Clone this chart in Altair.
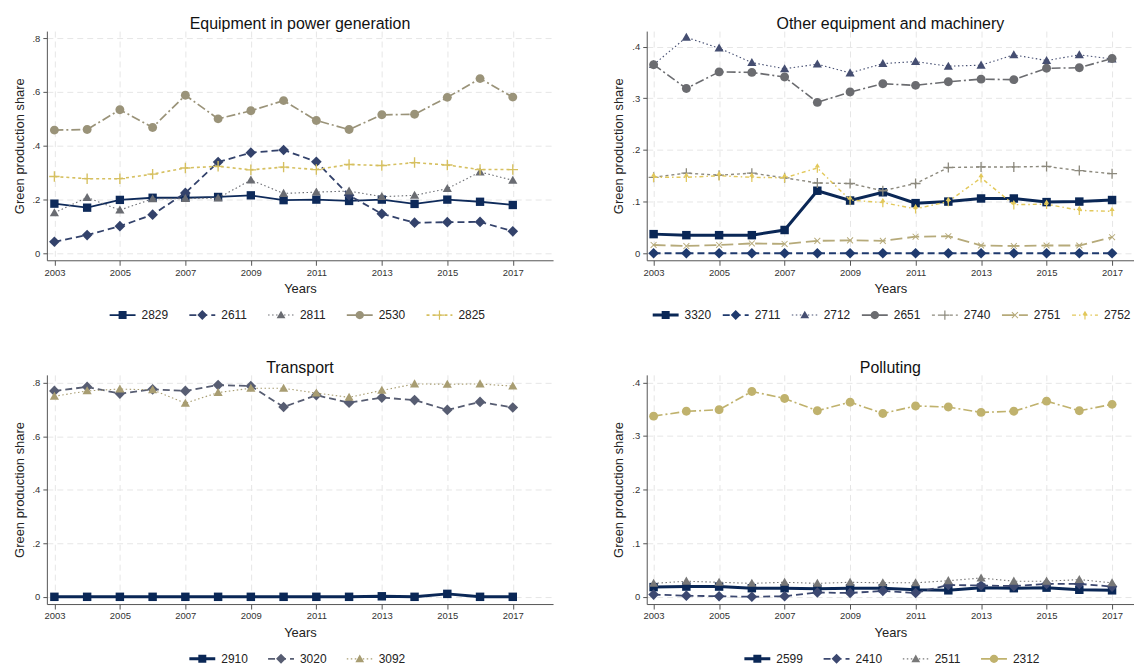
import altair as alt
import pandas as pd

YEARS = list(range(2003, 2018))
TICK_YEARS = [2003, 2005, 2007, 2009, 2011, 2013, 2015, 2017]

# Equipment in power generation
POWER_CODES = ["2829", "2611", "2811", "2530", "2825"]
POWER_2829 = [0.184, 0.169, 0.198, 0.206, 0.206, 0.209, 0.215, 0.197, 0.199, 0.194, 0.199, 0.183, 0.199, 0.191, 0.179]
POWER_2611 = [0.042, 0.067, 0.100, 0.143, 0.224, 0.339, 0.374, 0.384, 0.340, 0.215, 0.146, 0.113, 0.115, 0.116, 0.081]
POWER_2811 = [0.150, 0.207, 0.160, 0.202, 0.203, 0.205, 0.272, 0.222, 0.227, 0.231, 0.210, 0.215, 0.240, 0.302, 0.271]
POWER_2530 = [0.458, 0.460, 0.534, 0.468, 0.588, 0.500, 0.530, 0.568, 0.494, 0.460, 0.515, 0.517, 0.580, 0.650, 0.581]
POWER_2825 = [0.285, 0.277, 0.277, 0.294, 0.317, 0.323, 0.310, 0.320, 0.311, 0.330, 0.326, 0.337, 0.328, 0.311, 0.311]

# Other equipment and machinery
MACH_CODES = ["3320", "2711", "2712", "2651", "2740", "2751", "2752"]
MACH_3320 = [0.037, 0.035, 0.035, 0.035, 0.045, 0.121, 0.102, 0.118, 0.097, 0.100, 0.106, 0.106, 0.099, 0.100, 0.103]
MACH_2711 = [0.0] * 15
MACH_2712 = [0.365, 0.418, 0.397, 0.369, 0.357, 0.366, 0.349, 0.367, 0.371, 0.362, 0.364, 0.384, 0.373, 0.384, 0.376]
MACH_2651 = [0.365, 0.319, 0.351, 0.350, 0.341, 0.292, 0.312, 0.328, 0.325, 0.332, 0.337, 0.336, 0.358, 0.359, 0.377]
MACH_2740 = [0.147, 0.155, 0.151, 0.155, 0.146, 0.136, 0.135, 0.121, 0.135, 0.166, 0.167, 0.167, 0.168, 0.160, 0.154]
MACH_2751 = [0.016, 0.014, 0.016, 0.019, 0.018, 0.024, 0.025, 0.024, 0.032, 0.033, 0.015, 0.014, 0.015, 0.015, 0.031]
MACH_2752 = [0.147, 0.147, 0.150, 0.147, 0.146, 0.165, 0.103, 0.098, 0.086, 0.100, 0.146, 0.094, 0.095, 0.083, 0.081]

# Transport
TRANS_CODES = ["2910", "3020", "3092"]
TRANS_2910 = [0.0, 0.0, 0.0, 0.0, 0.0, 0.0, 0.0, 0.0, 0.0, 0.0, 0.002, 0.0, 0.011, 0.0, 0.0]
TRANS_3020 = [0.769, 0.784, 0.759, 0.775, 0.769, 0.791, 0.787, 0.709, 0.753, 0.725, 0.744, 0.735, 0.698, 0.728, 0.707]
TRANS_3092 = [0.749, 0.769, 0.776, 0.773, 0.723, 0.763, 0.779, 0.779, 0.761, 0.745, 0.771, 0.795, 0.794, 0.795, 0.787]

# Polluting
POLL_CODES = ["2599", "2410", "2511", "2312"]
POLL_2599 = [0.018, 0.019, 0.019, 0.016, 0.016, 0.015, 0.016, 0.016, 0.013, 0.012, 0.017, 0.016, 0.017, 0.013, 0.012]
POLL_2410 = [0.004, 0.002, 0.001, 0.0, 0.001, 0.008, 0.007, 0.011, 0.007, 0.022, 0.021, 0.020, 0.024, 0.024, 0.019]
POLL_2511 = [0.025, 0.029, 0.027, 0.025, 0.027, 0.025, 0.027, 0.026, 0.026, 0.030, 0.035, 0.029, 0.029, 0.032, 0.026]
POLL_2312 = [0.337, 0.346, 0.349, 0.383, 0.370, 0.347, 0.363, 0.342, 0.356, 0.354, 0.344, 0.346, 0.365, 0.347, 0.359]

FONT = "Liberation Sans"
LEG_R = 13.0

DASH = {
    "solid": [],
    "dash": [7, 4],
    "dot": [1.5, 2.5],
    "dashdot": [9, 3, 2, 3],
    "short": [3, 3],
    "long": [12, 5],
    "dashdot2": [4, 3, 1.5, 3],
}


def poly(pts):
    area = sum(x0 * y1 - x1 * y0 for (x0, y0), (x1, y1) in zip(pts, pts[1:] + pts[:1]))
    if area < 0:
        pts = pts[::-1]
    return "M" + "L".join(f"{x:.3f},{y:.3f}" for x, y in pts) + "Z"


def rect(x0, y0, x1, y1):
    return poly([(x0, y0), (x1, y0), (x1, y1), (x0, y1)])


def marker(kind, s):
    if kind == "square":
        return rect(-s, -s, s, s)
    if kind == "diamond":
        return poly([(0, -s), (s, 0), (0, s), (-s, 0)])
    if kind == "triangle":
        return poly([(0, -s), (s, 0.75 * s), (-s, 0.75 * s)])
    if kind == "circle":
        return f"M{-s:.3f},0A{s:.3f},{s:.3f} 0 1,1 {s:.3f},0A{s:.3f},{s:.3f} 0 1,1 {-s:.3f},0Z"
    w = 0.13 * s
    if kind == "plus":
        return rect(-s, -w, s, w) + rect(-w, -s, w, s)
    if kind == "x":
        a, d = 0.8 * s, w * 0.707
        return (poly([(-a + d, -a - d), (a + d, a - d), (a - d, a + d), (-a - d, -a + d)])
                + poly([(-a + d, a + d), (a + d, -a + d), (a - d, -a - d), (-a - d, a - d)]))
    # small triangle with a stem
    return poly([(0, -s), (0.55 * s, -0.1 * s), (-0.55 * s, -0.1 * s)]) + rect(-w, -0.1 * s, w, s)


def legend_path(dash, width, kind, half):
    hw = width / 2 / LEG_R
    parts = []
    pattern = DASH[dash]
    if not pattern:
        parts.append(rect(-1, -hw, 1, hw))
    else:
        pos, i = -1.0, 0
        while pos < 1:
            seg = pattern[i % len(pattern)] / LEG_R
            if i % 2 == 0:
                parts.append(rect(pos, -hw, min(pos + seg, 1), hw))
            pos += seg
            i += 1
    parts.append(marker(kind, half / LEG_R))
    return "".join(parts)


# colour, dash, line width, marker, marker size, legend marker half-size
POWER_STYLE = [
    ("#0e2a5a", "solid", 1.8, "square", 70, 4.0),
    ("#33426b", "dash", 1.8, "diamond", 115, 5.0),
    ("#6a6c72", "dot", 1.1, "triangle", 85, 4.4),
    ("#9a9379", "dashdot", 1.7, "circle", 80, 4.2),
    ("#d6c060", "short", 1.6, "plus", 110, 4.6),
]
MACH_STYLE = [
    ("#0a2756", "solid", 3.0, "square", 72, 4.0),
    ("#1f3a6e", "dash", 1.8, "diamond", 115, 5.0),
    ("#454e71", "dot", 1.1, "triangle", 85, 4.4),
    ("#6b6c70", "dashdot", 1.6, "circle", 80, 4.2),
    ("#8c897d", "short", 1.4, "plus", 100, 4.6),
    ("#b6aa7a", "long", 1.8, "x", 55, 3.8),
    ("#e2c85a", "dashdot2", 1.4, "arrow", 90, 4.4),
]
TRANS_STYLE = [
    ("#0a2756", "solid", 3.0, "square", 72, 4.0),
    ("#575d72", "dash", 1.8, "diamond", 115, 5.0),
    ("#a89d72", "dot", 1.1, "triangle", 85, 4.4),
]
POLL_STYLE = [
    ("#0a2756", "solid", 3.0, "square", 72, 4.0),
    ("#3c4870", "dash", 1.8, "diamond", 115, 5.0),
    ("#787878", "dot", 1.1, "triangle", 85, 4.4),
    ("#c0b26d", "dashdot", 1.6, "circle", 80, 4.2),
]

Y_LABELS = "datum.value == 0 ? '0' : substring(format(datum.value, '.1f'), 1)"


def panel(title, codes, series, styles, y_dom, y_ticks, x_dom, width, leg_x, leg_pad):
    df = pd.DataFrame({
        "year": YEARS * len(codes),
        "code": [c for c in codes for _ in YEARS],
        "share": [v for s in series for v in s],
    })
    x = alt.X("year:Q", scale=alt.Scale(domain=x_dom, nice=False, zero=False),
              axis=alt.Axis(values=TICK_YEARS, format="d", title="Years"))
    y = alt.Y("share:Q", scale=alt.Scale(domain=y_dom, nice=False, zero=False),
              axis=alt.Axis(values=y_ticks, labelExpr=Y_LABELS, title="Green production share"))
    layers = []
    for code, (color, dash, lw, kind, size, _) in zip(codes, styles):
        base = alt.Chart(df).transform_filter(alt.datum.code == code)
        line_kw = {"color": color, "strokeWidth": lw}
        if DASH[dash]:
            line_kw["strokeDash"] = DASH[dash]
        layers.append(base.mark_line(**line_kw).encode(x=x, y=y))
        layers.append(base.mark_point(shape=marker(kind, 1.0), size=size, filled=True,
                                      opacity=1, color=color, strokeWidth=0).encode(x=x, y=y))
    leg = alt.Legend(orient="none", legendX=leg_x, legendY=272, direction="horizontal",
                     columns=len(codes), title=None, symbolSize=LEG_R * LEG_R * 4,
                     symbolStrokeWidth=0, labelFontSize=12, labelFont=FONT, labelColor="#222",
                     labelOffset=6, columnPadding=leg_pad, padding=0)
    legend_layer = alt.Chart(df).transform_filter("false").mark_point(
        filled=True, opacity=1, size=LEG_R * LEG_R * 4
    ).encode(
        color=alt.Color("code:N", scale=alt.Scale(domain=codes, range=[s[0] for s in styles]), legend=leg),
        shape=alt.Shape("code:N", scale=alt.Scale(
            domain=codes, range=[legend_path(s[1], s[2], s[3], s[5]) for s in styles]), legend=leg),
    )
    return alt.layer(*layers, legend_layer).properties(
        width=width, height=230,
        title=alt.TitleParams(title, fontSize=16, font=FONT, fontWeight="normal", color="#111",
                              anchor="middle", baseline="alphabetic", offset=-14),
    )


p1 = panel("Equipment in power generation", POWER_CODES,
           [POWER_2829, POWER_2611, POWER_2811, POWER_2530, POWER_2825], POWER_STYLE,
           [-0.027, 0.827], [0, 0.2, 0.4, 0.6, 0.8], [2002.77, 2018.23], 508, 63, 21)
p2 = panel("Other equipment and machinery", MACH_CODES,
           [MACH_3320, MACH_2711, MACH_2712, MACH_2651, MACH_2740, MACH_2751, MACH_2752], MACH_STYLE,
           [-0.0136, 0.430], [0, 0.1, 0.2, 0.3, 0.4], [2002.79, 2017.67], 489, 6, 11.3)
p3 = panel("Transport", TRANS_CODES, [TRANS_2910, TRANS_3020, TRANS_3092], TRANS_STYLE,
           [-0.027, 0.829], [0, 0.2, 0.4, 0.6, 0.8], [2002.77, 2018.23], 508, 143, 20)
p4 = panel("Polluting", POLL_CODES, [POLL_2599, POLL_2410, POLL_2511, POLL_2312], POLL_STYLE,
           [-0.0136, 0.414], [0, 0.1, 0.2, 0.3, 0.4], [2002.79, 2017.67], 489, 98, 20.5)

chart = (
    alt.concat(p1, p2, p3, p4, columns=2, spacing={"row": 115, "column": 94}, bounds="flush")
    .resolve_scale(x="independent", y="independent", color="independent", shape="independent")
    .resolve_legend(color="independent", shape="independent")
    .properties(padding={"left": 5, "top": 7, "right": 0, "bottom": 0})
    .configure_view(stroke=None)
    .configure_axis(
        labelFont=FONT, titleFont=FONT, labelFontSize=9.5, labelColor="#333",
        titleFontSize=13, titleFontWeight="normal", titleColor="#222",
        domainColor="#555", tickColor="#555", tickSize=4, labelPadding=3,
        gridColor="#e6e6e6", gridDash=[6, 4], gridWidth=1,
    )
    .configure_axisX(titlePadding=6, labelPadding=2, tickSize=5)
    .configure_axisY(titlePadding=6)
)

chart.save("out.html", embed_options={"renderer": "svg", "actions": False})
